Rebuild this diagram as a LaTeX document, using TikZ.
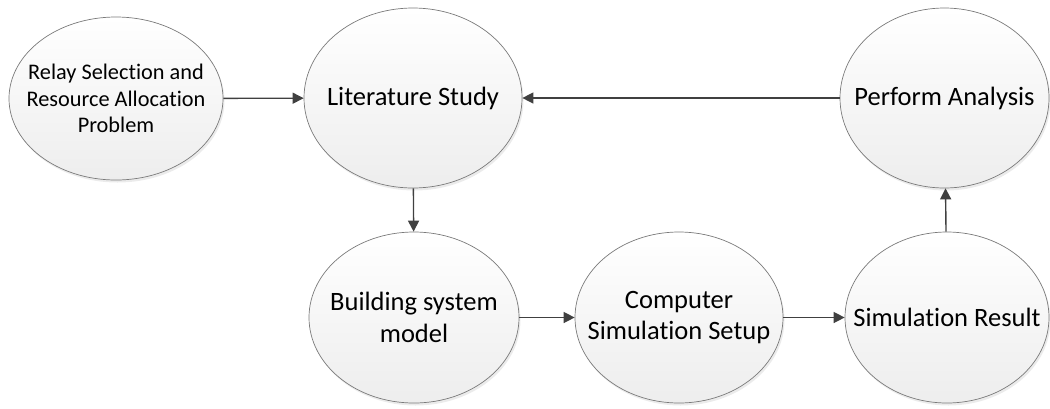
\documentclass[tikz,border=0pt]{standalone}
\usepackage{fontspec}
\setmainfont{Carlito}[Ligatures=NoCommon]
\usetikzlibrary{shapes.geometric,arrows.meta,shadows}
\definecolor{edgegray}{HTML}{7A7A7A}
\definecolor{arrowgray}{HTML}{404040}
\begin{document}
\begin{tikzpicture}[x=1pt,y=-1pt,
  bubble/.style={ellipse, draw=edgegray, line width=0.7pt, inner sep=0pt,
    top color=white, bottom color=black!7,
    drop shadow={shadow xshift=1.5pt, shadow yshift=-2.5pt, opacity=0.13, fill=black!60}},
  caption/.style={align=center, inner sep=0pt, font=\fontsize{26.5}{31.5}\selectfont},
  flow/.style={draw=arrowgray, line width=1.4pt, -{Triangle[length=11pt,width=11pt]}}]
\useasboundingbox (0,0) rectangle (1050,408);
\node[bubble, minimum width=214pt, minimum height=163pt] (relay) at (116,98.5) {};
\node[bubble, minimum width=218pt, minimum height=180pt] (lit) at (413,98) {};
\node[bubble, minimum width=209pt, minimum height=180pt] (perf) at (944.5,98) {};
\node[bubble, minimum width=210pt, minimum height=171pt] (build) at (414,317.5) {};
\node[bubble, minimum width=208pt, minimum height=171pt] (comp) at (679,317.5) {};
\node[bubble, minimum width=204pt, minimum height=171pt] (simres) at (947,317.5) {};
\node[caption, font=\fontsize{22.3}{26.8}\selectfont] (relayt) at (relay.center)
  {Relay Selection and\\Resource Allocation\\Problem};
\node[caption] (litt) at (lit.center) {Literature Study};
\node[caption] (perft) at (perf.center) {Perform Analysis};
\node[caption] (buildt) at (build.center) {Building system\\model};
\node[caption] (compt) at (comp.center) {Computer\\Simulation Setup};
\node[caption] (simrest) at (simres.center) {Simulation Result};
\draw[flow] (relay) -- (lit);
\draw[flow] (perf) -- (lit);
\draw[flow] (lit) -- (build);
\draw[flow] (build) -- (comp);
\draw[flow] (comp) -- (simres);
\draw[flow] (simres) -- (perf);
\end{tikzpicture}
\end{document}
